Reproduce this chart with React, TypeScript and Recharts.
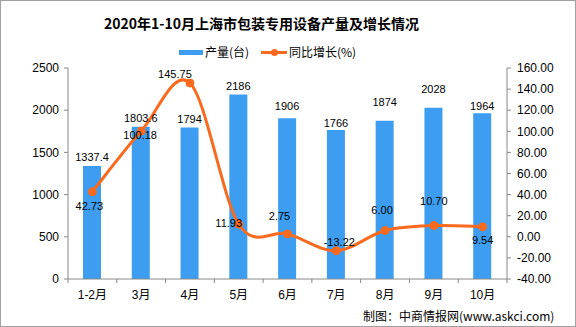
import React from "react";
import { ComposedChart, Bar, Line, XAxis, YAxis, LabelList } from "recharts";

const categories = ["1-2月", "3月", "4月", "5月", "6月", "7月", "8月", "9月", "10月"];
const production = [1337.4, 1803.6, 1794, 2186, 1906, 1766, 1874, 2028, 1964];
const growth = [42.73, 100.18, 145.75, 11.93, 2.75, -13.22, 6.0, 10.7, 9.54];
const leftTicks = [0, 500, 1000, 1500, 2000, 2500];
const rightTicks = [-40, -20, 0, 20, 40, 60, 80, 100, 120, 140, 160];

const data = categories.map((c, i) => ({ name: c, prod: production[i], growth: growth[i] }));

const W = 576;
const H = 327;
const LEFT_W = 68;
const RIGHT_W = 69;
const BAND = (W - LEFT_W - RIGHT_W) / categories.length;

const BLUE = "#3d9df0";
const ORANGE = "#fa6a1e";
const AXIS = "#888888";
const NUM_FONT = "'Liberation Sans', Arial, 'Noto Sans CJK SC', sans-serif";

// label placement tweaks (pixels, relative to the mark)
const BAR_LABEL_GAP = [5, 5, 5, 5, 8, 3, 15, 15, 3];
const LINE_LABEL_OFF: [number, number][] = [
  [-3, 14], [-1, 4], [-15, -9], [-10, -1], [-8, -18], [3, -9], [-3, -20], [0, -25], [0, 13],
];

// Excel-style smoothed line (Catmull-Rom as cubic Bezier)
const smoothCurve = (context: any) => {
  let pts: [number, number][] = [];
  return {
    areaStart() {},
    areaEnd() {},
    lineStart() {
      pts = [];
    },
    point(x: number, y: number) {
      pts.push([+x, +y]);
    },
    lineEnd() {
      if (!pts.length) return;
      context.moveTo(pts[0][0], pts[0][1]);
      for (let i = 0; i < pts.length - 1; i++) {
        const p0 = pts[i - 1] || pts[i];
        const p1 = pts[i];
        const p2 = pts[i + 1];
        const p3 = pts[i + 2] || p2;
        context.bezierCurveTo(
          p1[0] + (p2[0] - p0[0]) / 6,
          p1[1] + (p2[1] - p0[1]) / 6,
          p2[0] - (p3[0] - p1[0]) / 6,
          p2[1] - (p3[1] - p1[1]) / 6,
          p2[0],
          p2[1]
        );
      }
    },
  };
};

const XTick = (props: any) => {
  const { x, y, payload, index } = props;
  const half = BAND / 2;
  return (
    <g>
      <line x1={x - half} x2={x - half} y1={y} y2={y + 4} stroke={AXIS} />
      {index === categories.length - 1 && (
        <line x1={x + half} x2={x + half} y1={y} y2={y + 4} stroke={AXIS} />
      )}
      <text x={x} y={y + 20} textAnchor="middle" fontSize={12} fill="#000" fontFamily={NUM_FONT}>
        {payload.value}
      </text>
    </g>
  );
};

const BarLabel = (props: any) => {
  const { x, y, width, value, index } = props;
  return (
    <text
      x={x + width / 2}
      y={y - BAR_LABEL_GAP[index]}
      textAnchor="middle"
      fontSize={11}
      fill="#000"
      fontFamily={NUM_FONT}
    >
      {value}
    </text>
  );
};

const LineLabel = (props: any) => {
  const { x, y, value, index } = props;
  const [dx, dy] = LINE_LABEL_OFF[index];
  return (
    <text
      x={x + dx}
      y={y + dy}
      textAnchor="middle"
      dominantBaseline="central"
      fontSize={11}
      fill="#000"
      fontFamily={NUM_FONT}
    >
      {Number(value).toFixed(2)}
    </text>
  );
};

export default function App() {
  return (
    <div
      style={{
        position: "absolute",
        left: 0,
        top: 0,
        width: W,
        height: H,
        background: "#fff",
        boxSizing: "border-box",
        border: "1px solid #a0a0a0",
        fontFamily: "'Noto Sans CJK SC', sans-serif",
      }}
    >
      <div
        style={{
          position: "absolute",
          left: 0,
          width: 521,
          top: 12,
          textAlign: "center",
          fontSize: 14,
          fontWeight: 700,
          lineHeight: "20px",
          color: "#000",
          whiteSpace: "nowrap",
        }}
      >
        2020年1-10月上海市包装专用设备产量及增长情况
      </div>
      <div style={{ position: "absolute", left: 178, top: 49, width: 24, height: 5, background: BLUE }} />
      <div style={{ position: "absolute", left: 204, top: 43, fontSize: 12, lineHeight: "16px" }}>产量(台)</div>
      <div style={{ position: "absolute", left: 260, top: 50, width: 26, height: 3, background: ORANGE }} />
      <div
        style={{
          position: "absolute",
          left: 270,
          top: 48,
          width: 7,
          height: 7,
          borderRadius: 4,
          background: ORANGE,
        }}
      />
      <div style={{ position: "absolute", left: 288, top: 43, fontSize: 12, lineHeight: "16px" }}>同比增长(%)</div>
      <div
        style={{
          position: "absolute",
          left: 362,
          top: 307,
          fontSize: 12,
          lineHeight: "16px",
          color: "#000",
          whiteSpace: "nowrap",
        }}
      >
        制图：中商情报网(www.askci.com)
      </div>
      <div style={{ position: "absolute", left: -1, top: -1 }}>
        <ComposedChart
          width={W}
          height={H}
          data={data}
          margin={{ top: 68, right: 0, bottom: 18, left: 0 }}
        >
          <XAxis
            dataKey="name"
            stroke={AXIS}
            tickLine={false}
            tickSize={0}
            tickMargin={0}
            height={30}
            interval={0}
            tick={<XTick />}
          />
          <YAxis
            yAxisId="l"
            orientation="left"
            width={LEFT_W}
            domain={[0, 2500]}
            ticks={leftTicks}
            interval={0}
            stroke={AXIS}
            tickSize={4}
            tickMargin={5}
            tick={{ fill: "#000", fontSize: 12, fontFamily: NUM_FONT }}
          />
          <YAxis
            yAxisId="r"
            orientation="right"
            width={RIGHT_W}
            domain={[-40, 160]}
            ticks={rightTicks}
            interval={0}
            stroke={AXIS}
            tickSize={4}
            tickMargin={6}
            tickFormatter={(v: number) => v.toFixed(2)}
            tick={{ fill: "#000", fontSize: 12, fontFamily: NUM_FONT }}
          />
          <Bar yAxisId="l" dataKey="prod" fill={BLUE} barSize={18} isAnimationActive={false}>
            <LabelList dataKey="prod" content={<BarLabel />} />
          </Bar>
          <Line
            yAxisId="r"
            dataKey="growth"
            type={smoothCurve as any}
            stroke={ORANGE}
            strokeWidth={3}
            dot={{ r: 4, fill: ORANGE, stroke: ORANGE, strokeWidth: 1 }}
            isAnimationActive={false}
          >
            <LabelList dataKey="growth" content={<LineLabel />} />
          </Line>
        </ComposedChart>
      </div>
    </div>
  );
}
